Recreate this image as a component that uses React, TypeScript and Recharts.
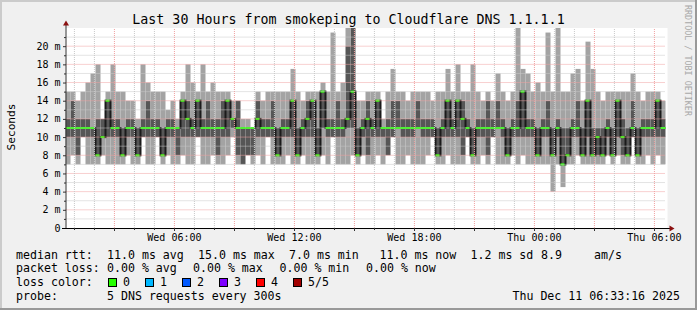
import { ComposedChart, Bar, XAxis, YAxis, ReferenceLine } from 'recharts'

document.body.style.margin = '0'

// 5 DNS pings per slot (15 min each, 120 slots = 30h), values in ms
const lo = [
  7, 8, 7, 10, 7, 7, 7, 8, 7, 7, 7, 7,
  8, 7, 7, 10, 7, 7, 10, 7, 8, 7, 7, 8,
  7, 7, 10, 7, 7, 8, 7, 7, 8, 10, 7, 7,
  8, 7, 8, 7, 10, 7, 7, 7, 8, 7, 7, 8,
  7, 7, 7, 8, 7, 10, 7, 7, 7, 8, 7, 8,
  7, 7, 8, 7, 8, 10, 7, 7, 8, 7, 7, 7,
  8, 10, 7, 7, 8, 7, 7, 7, 10, 7, 7, 8,
  7, 10, 7, 7, 7, 8, 7, 8, 7, 7, 7, 7,
  7, 4, 7, 4.5, 7, 7, 8, 7, 7, 7, 7, 7,
  8, 7, 8, 7, 7, 10, 7, 7, 8, 7, 8, 7,
]
const p2 = [
  10, 10, 8, 10, 10, 10, 8, 10, 10, 10, 10, 8,
  10, 10, 8, 10, 10, 10, 10, 8, 10, 10, 8, 10,
  10, 10, 10, 10, 10, 10, 8, 10, 10, 11, 8, 7,
  8, 8, 10, 10, 10, 10, 8, 10, 10, 10, 8, 10,
  10, 10, 8, 11, 10, 10, 10, 10, 11, 11, 8, 10,
  8, 10, 10, 10, 8, 10, 11, 10, 10, 10, 11, 10,
  10, 10, 8, 10, 10, 10, 10, 8, 10, 8, 10, 10,
  8, 10, 11, 10, 8, 10, 10, 10, 10, 10, 8, 10,
  10, 8, 10, 7, 8, 10, 10, 8, 10, 8, 8, 8,
  10, 8, 10, 8, 8, 10, 8, 10, 10, 10, 10, 10,
]
const median = [
  11, 11, 11, 11, 11, 11, 8, 10, 14, 11, 11, 8,
  11, 11, 8, 11, 11, 11, 11, 8, 11, 11, 11, 14,
  12, 11, 14, 11, 11, 11, 11, 11, 14, 12, 11, 11,
  11, 11, 12, 11, 11, 11, 8, 11, 11, 14, 8, 11,
  12, 14, 8, 15, 11, 11, 11, 11, 12, 15, 8, 11,
  12, 11, 14, 11, 11, 11, 11, 11, 11, 11, 11, 11,
  11, 11, 8, 11, 14, 11, 14, 12, 11, 8, 11, 11,
  11, 11, 11, 11, 8, 11, 11, 15, 11, 11, 8, 11,
  11, 8, 11, 7, 8, 11, 11, 8, 14, 8, 10, 8,
  11, 8, 14, 10, 8, 11, 8, 11, 11, 11, 14, 11,
]
const p4 = [
  12, 14, 12, 12, 12, 11, 12, 12, 14, 12, 12, 11,
  12, 12, 11, 12, 14, 12, 12, 11, 12, 12, 11, 14,
  14, 12, 14, 12, 14, 12, 12, 14, 14, 12, 14, 11,
  11, 11, 14, 12, 12, 14, 11, 12, 12, 14, 11, 12,
  14, 14, 11, 15, 12, 12, 14, 12, 20, 22, 11, 12,
  14, 12, 14, 11, 12, 14, 14, 12, 12, 12, 14, 12,
  12, 12, 11, 12, 14, 12, 14, 14, 12, 11, 12, 12,
  14, 12, 14, 12, 11, 12, 14, 15, 12, 12, 11, 12,
  14, 11, 12, 11, 11, 12, 14, 11, 14, 11, 11, 11,
  12, 11, 14, 12, 11, 14, 11, 12, 12, 12, 14, 12,
]
const hi = [
  15, 15, 14, 15, 16, 17, 18, 12, 15, 18, 15, 15,
  14, 14, 12, 18, 16, 15, 15, 15, 13, 14, 12, 15,
  18, 16, 15, 18, 15, 16, 15, 15, 15, 14, 14, 12,
  12, 11, 15, 14, 15, 15, 15, 15, 15, 17.5, 15, 14,
  15, 15, 15, 16, 15, 21.5, 15, 16, 22, 22, 14, 14,
  15, 15, 15, 12, 15, 17.5, 15, 15, 14, 15, 15, 15,
  15, 14, 15, 15, 17.5, 15, 18, 15, 15, 18, 15, 14,
  15, 14, 17, 15, 14, 15, 22, 17.5, 17, 15, 16, 15,
  21.5, 15, 22, 15, 15, 17, 17.5, 14, 20.5, 17.5, 15, 14,
  15, 15, 15, 15, 15, 17, 15, 14, 15, 15, 15, 14,
]

const yTicks = [0, 2, 4, 6, 8, 10, 12, 14, 16, 18, 20]
const timeTicks = [6, 12, 18, 24, 30] // hours since Wed 00:00
const timeLabels = ['Wed 06:00', 'Wed 12:00', 'Wed 18:00', 'Thu 00:00', 'Thu 06:00']
const START = 33 / 60 + 16 / 3600 // Wed 00:33:16
const SLOT = 0.25 // hours per slot

const lossColors = ['#26ff00', '#00b8ff', '#0059ff', '#7e00ff', '#ff0000', '#a10000']
const lossLabels = ['0', '1', '2', '3', '4', '5/5']

const MONO = "'DejaVu Sans Mono', monospace"
const W = 697
const H = 310
const L = 65.5
const T = 28
const PW = 600
const PH = 200
const GRID = '#c8c8c8'
const MGRID = '#f0a0a0'

const rows = median.map((m, i) => ({
  i,
  t: START + (i + 0.5) * SLOT,
  base: lo[i],
  l1: p2[i] - lo[i],
  d: p4[i] - p2[i],
  l2: hi[i] - p4[i],
  med: m,
  prev: i > 0 ? median[i - 1] : m,
}))

const minorY = Array.from({ length: 21 }, (_, k) => k + 1)
const gridHours = Array.from({ length: 30 }, (_, k) => k + 1)

function MedianMark(props: any) {
  const { x, y, width, height, payload } = props
  if (height == null || !payload || !payload.med) return <g />
  const k = height / payload.med
  const py = y + height - payload.prev * k
  return (
    <g>
      {payload.prev !== payload.med && (
        <rect x={x - 1} y={Math.min(py, y) - 1} width={2} height={Math.abs(py - y) + 2} fill="#1a1a1a" />
      )}
      <rect x={x} y={y - 1} width={width} height={2} fill="#26ff00" />
    </g>
  )
}

const legendRow1: [number, string][] = [
  [16, 'median rtt:'], [107, '11.0 ms avg'], [198, '15.0 ms max'], [289, '7.0 ms min'],
  [379.5, '11.0 ms now'], [470.5, '1.2 ms sd'], [541, '8.9'], [594, 'am/s'],
]
const legendRow2: [number, string][] = [
  [16, 'packet loss:'], [107, '0.00 % avg'], [193, '0.00 % max'], [279.5, '0.00 % min'], [366, '0.00 % now'],
]

export default function App() {
  const xOf = (h: number) => L + ((h - START) / 30) * PW
  return (
    <div style={{ position: 'relative', width: W, height: H, overflow: 'hidden' }}>
      <svg width={W} height={H} style={{ position: 'absolute', left: 0, top: 0 }}>
        <rect x={0} y={0} width={W} height={H} fill="#f0f0f0" />
        <rect x={0} y={0} width={W} height={2} fill="#cbcbcb" />
        <rect x={0} y={0} width={2} height={H} fill="#cbcbcb" />
        <rect x={0} y={H - 2} width={W} height={2} fill="#999999" />
        <rect x={W - 2} y={0} width={2} height={H} fill="#999999" />
        <rect x={L} y={T} width={PW + 2} height={PH} fill="#ffffff" />
      </svg>
      <div style={{ position: 'absolute', left: 0, top: 0 }}>
        <ComposedChart
          width={W}
          height={H}
          data={rows}
          margin={{ top: T, left: L - 50, right: W - L - PW, bottom: H - T - PH - 30 }}
          barCategoryGap={0}
          barGap={0}
        >
          <XAxis
            xAxisId="t"
            dataKey="t"
            type="number"
            domain={[START, START + 30]}
            ticks={timeTicks}
            tickFormatter={(v: number) => timeLabels[timeTicks.indexOf(v)] ?? ''}
            allowDataOverflow
            axisLine={false}
            tickLine={false}
            tickSize={0}
            tickMargin={6}
            height={30}
            tick={{ fontSize: 10, fill: '#000', fontFamily: MONO }}
          />
          <XAxis xAxisId="c" dataKey="i" hide height={0} />
          <XAxis xAxisId="m" dataKey="i" hide height={0} />
          <YAxis
            domain={[0, 22]}
            ticks={yTicks}
            tickFormatter={(v: number) => (v === 0 ? '0' : `${v} m`)}
            allowDataOverflow
            axisLine={false}
            tickLine={false}
            tickSize={0}
            tickMargin={5}
            width={50}
            tick={{ fontSize: 10, fill: '#000', fontFamily: MONO }}
          />
          {minorY.map(v => (
            <ReferenceLine key={'y' + v} y={v} xAxisId="t" stroke={v % 2 === 0 ? MGRID : GRID} strokeDasharray="1 1" />
          ))}
          {gridHours.map(h => (
            <ReferenceLine key={'x' + h} x={h} xAxisId="t" stroke={h % 3 === 0 ? MGRID : GRID} strokeDasharray="1 1" />
          ))}
          <Bar xAxisId="c" dataKey="base" stackId="s" fill="transparent" isAnimationActive={false} />
          <Bar xAxisId="c" dataKey="l1" stackId="s" fill="#a3a3a3" isAnimationActive={false} />
          <Bar xAxisId="c" dataKey="d" stackId="s" fill="#565656" isAnimationActive={false} />
          <Bar xAxisId="c" dataKey="l2" stackId="s" fill="#a3a3a3" isAnimationActive={false} />
          <Bar xAxisId="m" dataKey="med" shape={MedianMark} isAnimationActive={false} />
        </ComposedChart>
      </div>
      <svg width={W} height={H} style={{ position: 'absolute', left: 0, top: 0, pointerEvents: 'none' }} fontFamily={MONO}>
        {/* axes with arrows */}
        <line x1={66} y1={228} x2={66} y2={24} stroke="#333" strokeWidth={1} />
        <polygon points="66,20.5 63,25.5 69,25.5" fill="#8b1010" />
        <line x1={62} y1={228.5} x2={670} y2={228.5} stroke="#000" strokeWidth={1} />
        <polygon points="674.5,228.5 669.5,225.5 669.5,231.5" fill="#8b1010" />
        {minorY.map(v => (
          <line key={'ty' + v} x1={v % 2 === 0 ? 63 : 64} x2={66} y1={228 - v * (PH / 22) + 0.5} y2={228 - v * (PH / 22) + 0.5} stroke="#333" />
        ))}
        {gridHours.map(h => (
          <line key={'tx' + h} x1={Math.round(xOf(h)) + 0.5} x2={Math.round(xOf(h)) + 0.5} y1={228} y2={h % 3 === 0 ? 231 : 230} stroke="#333" />
        ))}
        <text x={348.5} y={24} fontSize={13.3} textAnchor="middle" fill="#000">
          Last 30 Hours from smokeping to Cloudflare DNS 1.1.1.1
        </text>
        <text x={14.5} y={127} fontSize={11.2} textAnchor="middle" fill="#000" transform="rotate(-90 14.5 127)">
          Seconds
        </text>
        <text x={685} y={5} fontSize={8.4} fill="#a8a8a8" transform="rotate(90 685 5)">
          RRDTOOL / TOBI OETIKER
        </text>
        <g fontSize={11.6} fill="#000">
          {legendRow1.map(([x, s]) => (
            <text key={'r1' + x} x={x} y={258.5}>{s}</text>
          ))}
          {legendRow2.map(([x, s]) => (
            <text key={'r2' + x} x={x} y={272.3}>{s}</text>
          ))}
          <text x={16} y={286.2}>loss color:</text>
          {lossColors.map((c, i) => (
            <g key={c}>
              <rect x={108.5 + i * 37} y={278.5} width={8} height={8} fill={c} stroke="#000" strokeWidth={1} />
              <text x={123 + i * 37} y={286.2}>{lossLabels[i]}</text>
            </g>
          ))}
          <text x={16} y={300}>probe:</text>
          <text x={107} y={300}>5 DNS requests every 300s</text>
          <text x={680} y={300} textAnchor="end">Thu Dec 11 06:33:16 2025</text>
        </g>
      </svg>
    </div>
  )
}
